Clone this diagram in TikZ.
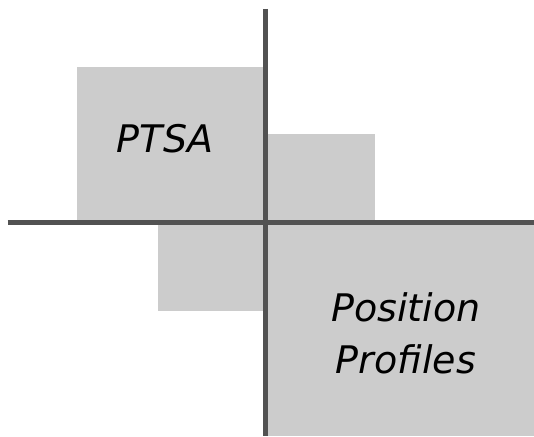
\documentclass[tikz,border=0pt]{standalone}
\usepackage{fontspec}
\setmainfont{DejaVu Sans}
\definecolor{boxgray}{HTML}{CCCCCC}
\definecolor{axisgray}{HTML}{525252}
\tikzset{
  quad/.style={fill=boxgray},
  axis/.style={draw=axisgray,line width=5pt},
  lbl/.style={font=\itshape\fontsize{38}{52}\selectfont,align=center,anchor=base,inner sep=0pt}
}
\begin{document}
\begin{tikzpicture}[x=1pt,y=-1pt]
\useasboundingbox (0,0) rectangle (534,436);
% quadrants
\fill[quad] (77,67) rectangle (266,222);
\fill[quad] (266,134) rectangle (375,222);
\fill[quad] (158,222) rectangle (266,311);
\fill[quad] (266,222) rectangle (534,436);
% axes
\coordinate (top) at (265.5,9);
\coordinate (bot) at (265.5,436);
\coordinate (left) at (7.5,222.5);
\coordinate (right) at (534,222.5);
\draw[axis] (top)--(bot);
\draw[axis] (left)--(right);
% labels
\node[lbl] (ptsa) at (165,152) {PTSA};
\node[lbl] (pos) at (406,373) {Position\\Profiles};
\end{tikzpicture}
\end{document}
